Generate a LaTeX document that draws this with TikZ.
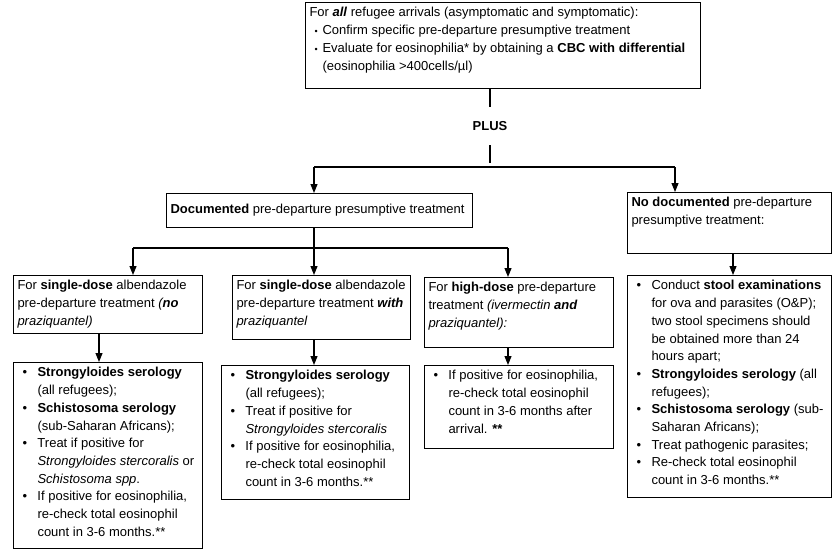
\documentclass[tikz,border=0pt]{standalone}
\usepackage{fontspec}
\setmainfont{Liberation Sans}
\usetikzlibrary{arrows.meta}
\setlength\parskip{0pt}
\newcommand\fs{\fontsize{13}{17.7}\selectfont}
\newdimen\bulind \newdimen\buloff
\bulind=20pt \buloff=5pt
\newcommand\bul[1]{\par\hangindent=\bulind\hangafter=1\noindent\hbox to\bulind{\hskip\buloff\textbullet\hss}#1}
\newcommand\sbul[1]{\par\hangindent=\bulind\hangafter=1\noindent\hbox to\bulind{\hskip\buloff{\fontsize{9}{10}\selectfont\textbullet}\hss}#1}
\newcommand\tbox[4][t]{\makebox[#3][l]{\parbox[c][#2][#1]{\dimexpr#3+40pt\relax}{\fs\raggedright\ifx t#1\vspace*{5pt}\fi#4}}}
\begin{document}
\begin{tikzpicture}[x=1pt,y=-1pt,
  box/.style={draw, line width=1pt, anchor=north west, inner xsep=4pt, inner ysep=0pt},
  conn/.style={line width=1.1pt},
  arr/.style={conn, -{Triangle[length=9pt,width=7pt]}}]
\useasboundingbox (0,0) rectangle (834,550);
% top
\node[box] (top) at (305,2) {\tbox{86pt}{387pt}{For \textbf{\textit{all}} refugee arrivals (asymptomatic and symptomatic):%
\bulind=13pt\buloff=5pt
\sbul{Confirm specific pre-departure presumptive treatment}
\sbul{Evaluate for eosinophilia* by obtaining a \textbf{CBC with differential}\newline (eosinophilia >400cells/µl)}}};
\node[inner sep=0pt, minimum height=38pt, font=\fs\bfseries] (plus) at (490,126) {PLUS};
% second level
\node[box] (doc) at (166,193) {\tbox[c]{34pt}{298pt}{\textbf{Documented} pre-departure presumptive treatment}};
\node[box] (nodoc) at (627,192) {\tbox{61pt}{196pt}{\textbf{No documented} pre-departure\newline presumptive treatment:}};
% third level
\node[box] (b1) at (13,275) {\tbox{58pt}{181pt}{For \textbf{single-dose} albendazole\newline pre-departure treatment \textit{(\textbf{no}\newline praziquantel)}}};
\node[box] (b2) at (232,275) {\tbox{64pt}{170pt}{For \textbf{single-dose} albendazole\newline pre-departure treatment \textbf{\textit{with}}\newline \textit{praziquantel}}};
\node[box] (b3) at (424,277) {\tbox{70pt}{181pt}{For \textbf{high-dose} pre-departure\newline treatment \textit{(ivermectin \textbf{and}\newline praziquantel):}}};
% fourth level
\node[box] (c1) at (13,362) {\tbox{186pt}{181pt}{%
\bul{\textbf{Strongyloides serology}\newline (all refugees);}
\bul{\textbf{Schistosoma serology}\newline (sub-Saharan Africans);}
\bul{Treat if positive for\newline \textit{Strongyloides stercoralis} or\newline \textit{Schistosoma spp}.}
\bul{If positive for eosinophilia,\newline re-check total eosinophil\newline count in 3-6 months.**}}};
\node[box] (c2) at (221,365) {\tbox{134pt}{180pt}{%
\bul{\textbf{Strongyloides serology}\newline (all refugees);}
\bul{Treat if positive for\newline \textit{Strongyloides stercoralis}}
\bul{If positive for eosinophilia,\newline re-check total eosinophil\newline count in 3-6 months.**}}};
\node[box] (c3) at (424,365) {\tbox{83pt}{181pt}{%
\bul{If positive for eosinophilia,\newline re-check total eosinophil\newline count in 3-6 months after\newline arrival. \textbf{**}}}};
\node[box] (c4) at (627,275) {\tbox{222pt}{196pt}{%
\bul{Conduct \textbf{stool examinations}\newline for ova and parasites (O\&P);\newline two stool specimens should\newline be obtained more than 24\newline hours apart;}
\bul{\textbf{Strongyloides serology} (all\newline refugees);}
\bul{\textbf{Schistosoma serology} (sub-\newline Saharan Africans);}
\bul{Treat pathogenic parasites;}
\bul{Re-check total eosinophil\newline count in 3-6 months.**}}};
% coordinates
\coordinate (p1) at (490,163);
\coordinate (h1) at (314,167);
\coordinate (h2) at (675,167);
\coordinate (g1) at (133,248);
\coordinate (g2) at (314,248);
\coordinate (g3) at (508,248);
\coordinate (x1) at (99,0);
\coordinate (x2) at (314,0);
\coordinate (x3) at (508,0);
\coordinate (x4) at (733,0);
% connectors
\draw[conn] (top.south -| plus) -- (plus.north);
\draw[conn] (plus.south) -- (p1);
\draw[conn] (h1) -- (h2);
\draw[arr] (h1) -- (h1 |- doc.north);
\draw[arr] (h2) -- (h2 |- nodoc.north);
\draw[conn] (doc.south -| g2) -- (g2);
\draw[conn] (g1) -- (g3);
\draw[arr] (g1) -- (g1 |- b1.north);
\draw[arr] (g2) -- (g2 |- b2.north);
\draw[arr] (g3) -- (g3 |- b3.north);
\draw[arr] (b1.south -| x1) -- (c1.north -| x1);
\draw[arr] (b2.south -| x2) -- (c2.north -| x2);
\draw[arr] (b3.south -| x3) -- (c3.north -| x3);
\draw[arr] (nodoc.south -| x4) -- (c4.north -| x4);
\end{tikzpicture}
\end{document}
